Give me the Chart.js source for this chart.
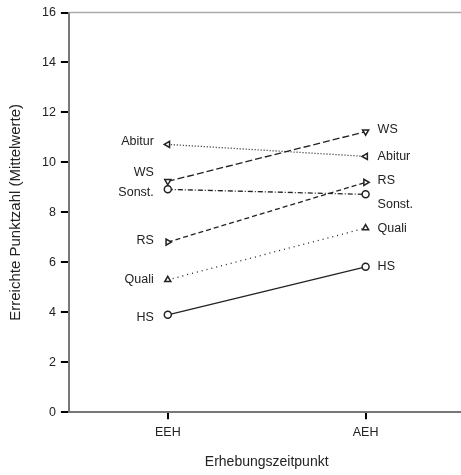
<!DOCTYPE html>
<html>
<head>
<meta charset="utf-8">
<script src="https://cdn.jsdelivr.net/npm/chart.js@4.4.0/dist/chart.umd.min.js"></script>
<style>
  html, body { margin: 0; padding: 0; background: #fff; overflow: hidden; }
  #wrap { width: 470px; height: 475px; }
</style>
</head>
<body>
<div id="wrap"><canvas id="chart" width="470" height="475"></canvas></div>
<script>
// data
const categories = ['EEH', 'AEH'];
const seriesNames = ['HS', 'Quali', 'RS', 'WS', 'Sonst.', 'Abitur'];
const hsValues = [3.90, 5.82];
const qualiValues = [5.30, 7.37];
const rsValues = [6.81, 9.20];
const wsValues = [9.24, 11.23];
const sonstValues = [8.92, 8.72];
const abiturValues = [10.72, 10.24];
const yMin = 0, yMax = 16, yStep = 2;

// label nudges [left dy, right dy] so texts don't collide
const labelNudge = {
  'HS': [3, 0], 'Quali': [0, 0], 'RS': [-2, -2],
  'WS': [-9, -2], 'Sonst.': [3, 10], 'Abitur': [-3, 0]
};

const ink = '#222';
const fam = '"Liberation Sans", Arial, sans-serif';

function series(name, data, dash, shape, rot) {
  return {
    label: name,
    data: data,
    borderColor: ink,
    borderWidth: 1.3,
    borderDash: dash,
    pointStyle: shape,
    pointRotation: rot,
    pointRadius: 3.5,
    pointBorderWidth: 1.5,
    pointBackgroundColor: '#fff',
    pointBorderColor: ink,
    tension: 0,
  };
}

const datasets = [
  series(seriesNames[0], hsValues, [], 'circle', 0),
  series(seriesNames[1], qualiValues, [1, 4], 'triangle', 0),
  series(seriesNames[2], rsValues, [5, 3], 'triangle', 90),
  series(seriesNames[3], wsValues, [7, 3], 'triangle', 180),
  series(seriesNames[4], sonstValues, [5, 2, 1, 2], 'circle', 0),
  series(seriesNames[5], abiturValues, [1, 2], 'triangle', -90),
];

const endLabels = {
  id: 'endLabels',
  afterDatasetsDraw(chart) {
    const ctx = chart.ctx;
    ctx.save();
    ctx.font = '12.5px ' + fam;
    ctx.fillStyle = ink;
    ctx.textBaseline = 'middle';
    chart.data.datasets.forEach((ds, i) => {
      const meta = chart.getDatasetMeta(i);
      const nudge = labelNudge[ds.label] || [0, 0];
      const first = meta.data[0], last = meta.data[meta.data.length - 1];
      ctx.textAlign = 'right';
      ctx.fillText(ds.label, first.x - 14, first.y + nudge[0]);
      ctx.textAlign = 'left';
      ctx.fillText(ds.label, last.x + 12, last.y + nudge[1]);
    });
    ctx.restore();
  }
};

const frame = {
  id: 'frame',
  beforeDatasetsDraw(chart) {
    const a = chart.chartArea, ctx = chart.ctx;
    ctx.save();
    ctx.strokeStyle = '#aaa';
    ctx.lineWidth = 1.5;
    ctx.beginPath();
    ctx.moveTo(a.left, a.top);
    ctx.lineTo(a.right, a.top);
    ctx.lineTo(a.right, a.bottom);
    ctx.stroke();
    ctx.restore();
  }
};

new Chart(document.getElementById('chart'), {
  type: 'line',
  data: { labels: categories, datasets: datasets },
  options: {
    responsive: false,
    animation: false,
    layout: { padding: { top: 10, right: 4, left: 3, bottom: 0 } },
    plugins: { legend: { display: false }, tooltip: { enabled: false } },
    scales: {
      x: {
        offset: true,
        grid: { drawOnChartArea: false, offset: false, color: '#000', lineWidth: 2, tickLength: 7 },
        border: { color: '#777', width: 2 },
        ticks: { color: ink, padding: 6, font: { family: fam, size: 12.5 } },
        title: { display: true, text: 'Erhebungszeitpunkt', color: ink, padding: { top: 8 },
                 font: { family: fam, size: 14 } },
      },
      y: {
        min: yMin, max: yMax,
        ticks: { stepSize: yStep, color: ink, padding: 5, font: { family: fam, size: 12.5 } },
        grid: { drawOnChartArea: false, color: '#000', lineWidth: 2, tickLength: 8 },
        border: { color: '#777', width: 2 },
        title: { display: true, text: 'Erreichte Punktzahl (Mittelwerte)', color: ink, padding: { bottom: 12 },
                 font: { family: fam, size: 15 } },
      },
    },
  },
  plugins: [frame, endLabels],
});
</script>
</body>
</html>
